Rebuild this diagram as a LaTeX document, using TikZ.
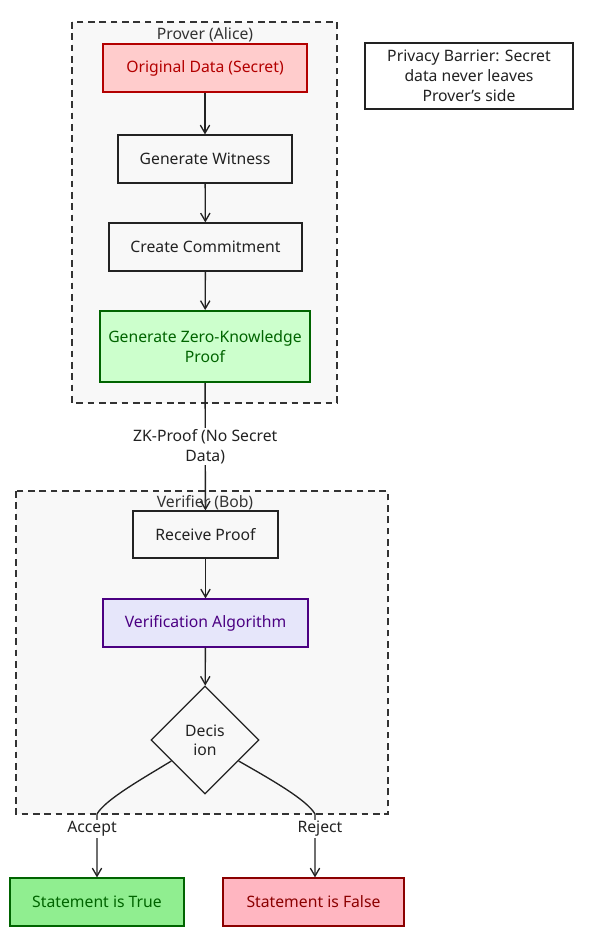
\documentclass[tikz,border=0pt]{standalone}
\usepackage{fontspec}
\setmainfont{Noto Sans}
\usetikzlibrary{arrows.meta,shapes.geometric}
\definecolor{clfill}{HTML}{F8F8F8}
\definecolor{clline}{HTML}{333333}
\definecolor{redfill}{HTML}{FFCCCC}
\definecolor{redline}{HTML}{B30000}
\definecolor{grnfill}{HTML}{CCFFCC}
\definecolor{grnline}{HTML}{006400}
\definecolor{purfill}{HTML}{E6E6FA}
\definecolor{purline}{HTML}{4B0082}
\definecolor{truefill}{HTML}{90EE90}
\definecolor{falsefill}{HTML}{FFB6C1}
\definecolor{falseline}{HTML}{8B0000}
\definecolor{ink}{HTML}{222222}
\tikzset{
  base/.style={font=\fontsize{11.8}{14.5}\selectfont, align=center, inner sep=2pt, text=ink},
  box/.style={base, rectangle, draw=ink, line width=0.9pt, fill=clfill, minimum height=36pt},
  cluster/.style={draw=clline, dashed, dash pattern=on 5pt off 3.5pt, fill=clfill, line width=0.9pt},
  cllabel/.style={base, text=clline},
  conn/.style={draw=ink, line width=1pt, -{Straight Barb[length=6pt,width=7pt]}},
  elabel/.style={base, fill=white, inner sep=1pt}
}
\begin{document}
\begin{tikzpicture}[x=0.75pt,y=-0.75pt]
\useasboundingbox (0,0) rectangle (592,951);
\fill[white] (0,0) rectangle (592,951);
% clusters
\draw[cluster] (72,22) rectangle (337,403);
\node[cllabel] (plab) at (205,35) {Prover (Alice)};
\draw[cluster] (16,491) rectangle (388,814);
% nodes
\node[box, fill=redfill, draw=redline, text=redline, minimum width=153pt] (orig) at (205,68) {Original Data (Secret)};
\node[box, minimum width=130.5pt] (wit) at (205,159) {Generate Witness};
\node[box, minimum width=144.75pt] (com) at (205.5,247) {Create Commitment};
\node[box, fill=grnfill, draw=grnline, text=grnline, line width=1.5pt, minimum width=157.5pt, minimum height=53.25pt] (zk) at (205,346.5) {Generate Zero-Knowledge\\Proof};
\node[box, fill=white, minimum width=156pt, minimum height=49.5pt, font=\fontsize{11.8}{15}\selectfont] (note) at (469,76) {Privacy Barrier: Secret\\data never leaves\\Prover's side};
\node[box, minimum width=108.75pt, minimum height=35.25pt] (recv) at (205.5,534.5) {Receive Proof};
\node[box, fill=purfill, draw=purline, text=purline, minimum width=153.75pt] (ver) at (205.5,623) {Verification Algorithm};
\node[base, diamond, draw=ink, line width=0.9pt, fill=clfill, aspect=1, inner sep=0pt, minimum width=81pt, minimum height=81pt] (dec) at (205,740) {Decis\\ion};
\node[box, fill=truefill, draw=grnline, text=grnline, minimum width=130.5pt] (tru) at (97,902) {Statement is True};
\node[box, fill=falsefill, draw=falseline, text=falseline, minimum width=135.75pt] (fal) at (313.5,902) {Statement is False};
% connectors
\draw[conn] (orig) -- (wit);
\draw[conn] (wit) -- (com);
\draw[conn] (com) -- (zk);
\draw[conn] (zk) -- node[elabel, pos=0.5] {ZK-Proof (No Secret\\Data)} (recv);
\node[cllabel] (vlab) at (205,503) {Verifier (Bob)};
\draw[conn] (recv) -- (ver);
\draw[conn] (ver) -- (dec);
\coordinate (acc) at (97,814);
\coordinate (rej) at (315,814);
\draw[conn] (dec.212) .. controls (140,780) and (105,800) .. (acc) -- (tru);
\draw[conn] (dec.328) .. controls (272,780) and (307,800) .. (rej) -- (fal.north -| rej);
\node[elabel] (alab) at (92,829) {Accept};
\node[elabel] (rlab) at (320,829) {Reject};
\end{tikzpicture}
\end{document}
